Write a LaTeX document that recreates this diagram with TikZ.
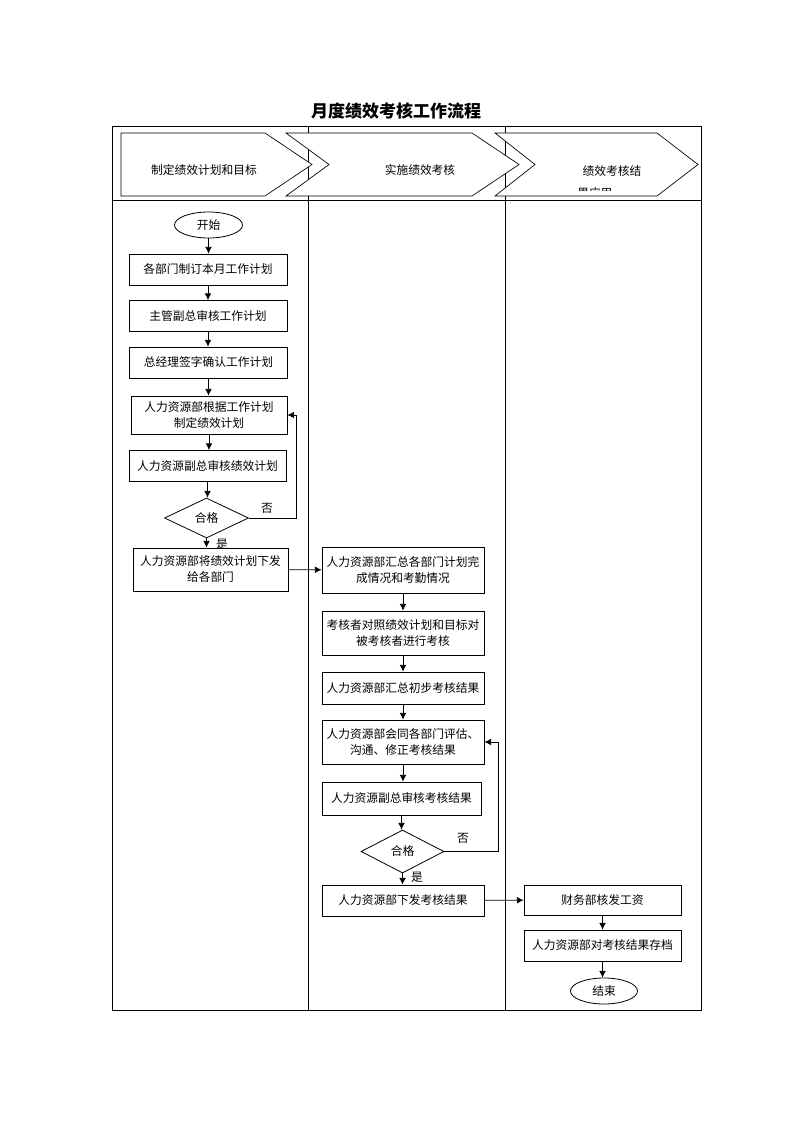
\documentclass[tikz,border=0pt]{standalone}
\usepackage{fontspec}
\usepackage{tikz}
\usetikzlibrary{shapes.geometric,arrows.meta,calc}
\newfontfamily\cjk{Noto Sans CJK SC}

\tikzset{
  proc/.style={draw, rectangle, line width=0.6pt, inner sep=1pt, align=center,
    minimum width=118.5pt, minimum height=23.25pt},
  term/.style={draw, ellipse, line width=0.6pt, inner sep=0pt,
    minimum width=51pt, minimum height=19.5pt},
  decide/.style={draw, diamond, line width=0.6pt, inner sep=0pt,
    minimum width=63pt, minimum height=30pt},
  flow/.style={line width=0.6pt, -{Latex[length=5pt,width=5pt]}},
  phase/.style={draw, fill=white, line width=0.5pt},
}

\begin{document}
\begin{tikzpicture}[x=0.75pt,y=0.75pt,yscale=-1,font=\cjk\fontsize{8.8pt}{12pt}\selectfont]
\useasboundingbox (0,0) rectangle (794,1123);

% Text Node
\node [font=\cjk\bfseries\fontsize{12.75pt}{14pt}\selectfont] (title) at (396,111) {月度绩效考核工作流程};

%Straight Lines
\draw [line width=0.75pt] (112.5,127) rectangle (701,1010);
\draw [line width=0.75pt] (112.5,200.5) -- (701,200.5);
\draw [line width=0.75pt] (308.5,127) -- (308.5,1010);
\draw [line width=0.75pt] (505,127) -- (505,1010);

%Shape: Chevron
\draw [phase] (121,133) -- (265,133) -- (312,164.5) -- (265,196) -- (121,196) -- cycle;
\draw [phase] (286,133) -- (472,133) -- (519,164.5) -- (472,196) -- (286,196) -- (329,164.5) -- cycle;
\draw [phase] (495,133) -- (657,133) -- (698,164.5) -- (657,196) -- (495,196) -- (535,164.5) -- cycle;

% Text Node
\node (ph1) at (204,170.5) {制定绩效计划和目标};
\node (ph2) at (420,170.5) {实施绩效考核};
\node (ph3) at (612,171) {绩效考核结};
\begin{scope}
\clip (495,133) rectangle (698,190.5);
\node [anchor=west, inner sep=0pt] (ph3b) at (577,193.5) {果应用};
\end{scope}

%Flowchart: first column
\node [term] (start) at (208.5,225) {开始};
\node [proc] (p1) at (208,269.5) {各部门制订本月工作计划};
\node [proc] (p2) at (208,316) {主管副总审核工作计划};
\node [proc] (p3) at (208.5,362.5) {总经理签字确认工作计划};
\node [proc, minimum width=117pt, minimum height=28.5pt] (p4) at (209,415) {人力资源部根据工作计划\\制定绩效计划};
\node [proc, minimum width=117.75pt] (p5) at (207.5,466) {人力资源副总审核绩效计划};
\node [decide] (d1) at (206.5,518) {合格};
\node [proc, minimum width=116.25pt, minimum height=32.25pt] (p6) at (210.5,569.5) {人力资源部将绩效计划下发\\给各部门};

%Flowchart: second column
\node [proc, minimum width=121.5pt, minimum height=34.5pt] (p7) at (403,570) {人力资源部汇总各部门计划完\\成情况和考勤情况};
\node [proc, minimum width=121.5pt, minimum height=33pt] (p8) at (403,633) {考核者对照绩效计划和目标对\\被考核者进行考核};
\node [proc, minimum width=121.5pt, minimum height=24pt] (p9) at (403,688) {人力资源部汇总初步考核结果};
\node [proc, minimum width=121.5pt, minimum height=33pt] (p10) at (403,742) {人力资源部会同各部门评估、\\沟通、修正考核结果};
\node [proc, minimum width=119.25pt, minimum height=24.75pt] (p11) at (401.5,798.5) {人力资源副总审核考核结果};
\node [decide, minimum width=62.25pt, minimum height=32.25pt] (d2) at (402.5,851.5) {合格};
\node [proc, minimum width=121.5pt] (p12) at (403,900.5) {人力资源部下发考核结果};

%Flowchart: third column
\node [proc, minimum width=117.75pt, minimum height=22.5pt] (p13) at (602.5,900) {财务部核发工资};
\node [proc, minimum width=117.75pt] (p14) at (602.5,945.5) {人力资源部对考核结果存档};
\node [term, minimum width=50.25pt] (stop) at (604,991) {结束};

% Text Node
\node (no1) at (267,508) {否};
\node (yes1) at (222,544) {是};
\node (no2) at (463,838) {否};
\node (yes2) at (417,877) {是};

%Connectors
\coordinate (r1) at (296,415);
\coordinate (r2) at (498,742);
\draw [flow] (start.south) -- (start.south |- p1.north);
\draw [flow] (p1.south) -- (p1.south |- p2.north);
\draw [flow] (p2.south) -- (p2.south |- p3.north);
\draw [flow] (p3.south) -- (p3.south |- p4.north);
\draw [flow] (p4.south) -- (p4.south |- p5.north);
\draw [flow] (p5.south) -- (p5.south |- d1.north);
\draw [flow] (d1.south) -- (d1.south |- p6.north);
\draw [flow] (d1.east) -| (r1) -- (p4.east);
\draw [flow] (p6) -- (p7);
\draw [flow] (p7.south) -- (p7.south |- p8.north);
\draw [flow] (p8.south) -- (p8.south |- p9.north);
\draw [flow] (p9.south) -- (p9.south |- p10.north);
\draw [flow] (p10.south) -- (p10.south |- p11.north);
\draw [flow] (p11.south) -- (p11.south |- d2.north);
\draw [flow] (d2.south) -- (d2.south |- p12.north);
\draw [flow] (d2.east) -| (r2) -- (p10.east);
\draw [flow] (p12) -- (p13);
\draw [flow] (p13.south) -- (p13.south |- p14.north);
\draw [flow] (p14.south) -- (p14.south |- stop.north);
\end{tikzpicture}
\end{document}
